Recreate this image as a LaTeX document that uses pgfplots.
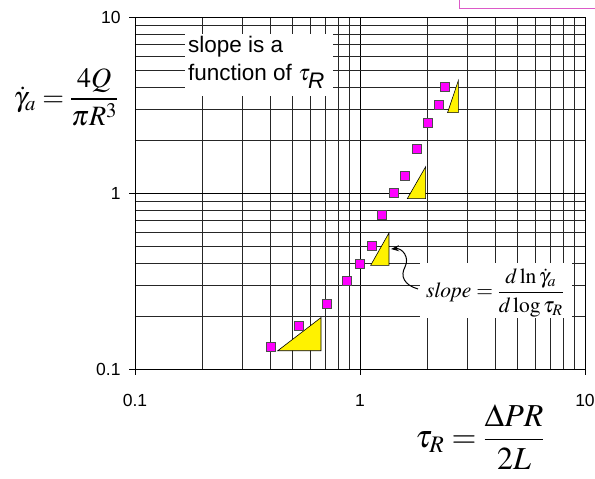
\documentclass[border=0pt]{standalone}
\usepackage{mathptmx}
\usepackage[no-math]{fontspec}
\setmainfont{Liberation Sans}
\usepackage{pgfplots}
\pgfplotsset{compat=1.18}
\usetikzlibrary{arrows.meta}
\definecolor{mag}{RGB}{255,0,255}
\definecolor{pinkbox}{RGB}{220,90,200}
\begin{document}
\begin{tikzpicture}[x=1pt,y=1pt]
\path[use as bounding box] (0,0) rectangle (595,479);
\begin{axis}[
 at={(135pt,110pt)}, anchor=south west,
 scale only axis, width=450pt, height=352pt,
 xmode=log, ymode=log, xmin=0.1, xmax=10, ymin=0.1, ymax=10,
 xtick={0.1,1,10}, ytick={0.1,1,10},
 xticklabels={0.1,1,10}, yticklabels={0.1,1,10},
 minor xtick={0.2,0.3,0.4,0.5,0.6,0.7,0.8,0.9,2,3,4,5,6,7,8,9},
 minor ytick={0.2,0.3,0.4,0.5,0.6,0.7,0.8,0.9,2,3,4,5,6,7,8,9},
 grid=both,
 major grid style={black,line width=0.8pt},
 minor grid style={black!85,line width=0.8pt},
 axis line style={black,line width=0.9pt},
 tick align=outside, major tick length=6pt, minor tick length=0pt,
 xtick pos=left, ytick pos=left,
 tick style={black,line width=0.9pt},
 ticklabel style={font=\fontsize{17.5}{20}\selectfont},
 /pgf/number format/assume math mode=true,
 xticklabel style={yshift=-16pt}, yticklabel style={xshift=-5pt},
 clip=false,
]
\addplot[fill=yellow, draw=black, line width=0.6pt] coordinates {(0.431,0.127) (0.671,0.127) (0.671,0.196)} -- cycle;
\addplot[fill=yellow, draw=black, line width=0.6pt] coordinates {(1.115,0.388) (1.345,0.388) (1.345,0.593)} -- cycle;
\addplot[fill=yellow, draw=black, line width=0.6pt] coordinates {(1.623,0.929) (1.958,0.929) (1.958,1.41)} -- cycle;
\addplot[fill=yellow, draw=black, line width=0.6pt] coordinates {(2.45,2.86) (2.735,2.86) (2.735,4.35)} -- cycle;
\addplot[only marks, mark=square*, mark size=4.5pt, mark options={fill=mag, draw=black!70, line width=0.6pt}] coordinates {
(0.401,0.133) (0.536,0.177) (0.713,0.236) (0.873,0.316) (1.0,0.398) (1.127,0.502)
(1.256,0.75) (1.416,1.0) (1.585,1.26) (1.786,1.78) (2.0,2.52) (2.24,3.16) (2.38,4.0)};
\end{axis}
% text box top-left
\fill[white] (185,383) rectangle (333,445);
\node[anchor=base west, font=\fontsize{22.5}{26}\selectfont, inner sep=0] at (188,426) {slope is a};
\node[anchor=base west, font=\fontsize{22.5}{26}\selectfont, inner sep=0] at (188,398) {function of $\tau_{\textit{R}}$};
% formula box
\fill[white] (420,161) rectangle (572,216);
\node[font=\fontsize{21.5}{25}\selectfont, inner sep=0] at (495,186) {$\mathit{slope}=\displaystyle\frac{d\ln\dot{\gamma}_a}{d\log\tau_R}$};
\draw[-{Stealth[length=8pt,width=6pt]}, line width=1pt] (418,190) .. controls (404,194) and (400,203) .. (405,212) .. controls (410,222) and (402,231) .. (391,230);
% axis labels
\node[font=\fontsize{28}{32}\selectfont, inner sep=0] at (66,382) {$\dot{\gamma}_a=\displaystyle\frac{4Q}{\pi R^3}$};
\node[font=\fontsize{32}{37}\selectfont, inner sep=0] at (480,42) {$\tau_R=\displaystyle\frac{\Delta PR}{2L}$};
% cropped legend box
\draw[pinkbox, line width=1pt, fill=white] (459,470) rectangle (620,500);
\end{tikzpicture}
\end{document}
